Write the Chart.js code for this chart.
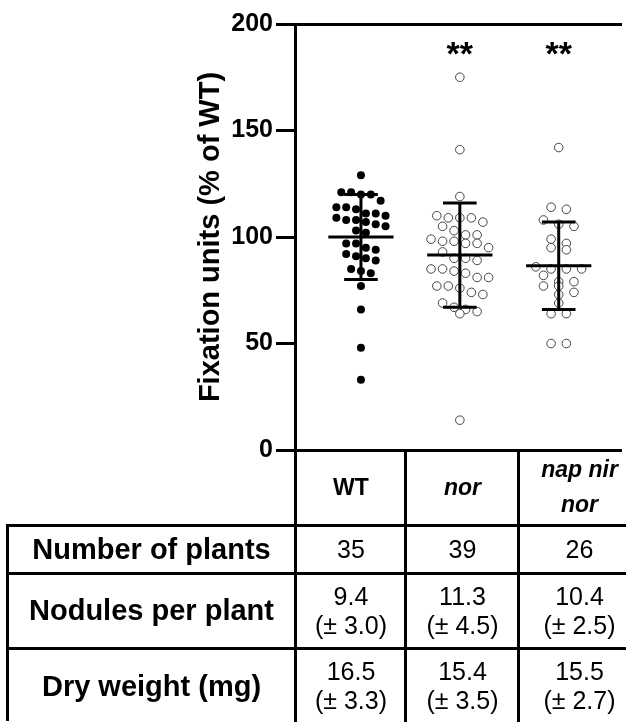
<!DOCTYPE html>
<html><head><meta charset="utf-8">
<script src="https://cdn.jsdelivr.net/npm/chart.js@4/dist/chart.umd.min.js"></script>
<style>
html,body{margin:0;padding:0;background:#fff;}
#wrap{position:relative;width:627px;height:722px;overflow:hidden;font-family:"Liberation Sans",Arial,sans-serif;color:#000;}
#c{position:absolute;left:0;top:0;}
.cell{position:absolute;box-sizing:border-box;display:flex;flex-direction:column;align-items:center;justify-content:center;text-align:center;font-size:25px;line-height:29px;white-space:nowrap;}
.cell div{white-space:nowrap;}
.ln{position:absolute;background:#000;}
</style></head><body>
<div id="wrap"><canvas id="c" width="627" height="722"></canvas></div>
<script>
// ---------- data ----------
const groups = ['WT', 'nor', 'nap nir nor'];
const wtValues  = [129,121,121,120,120,117,114,114,113,111,111,110,109,108,108,107,106,105,103,102,97,97,95,94,92,91,90,89,85,84,83,77,66,48,33];
const norValues = [175,141,119,110,109,109,109,107,105,103,101,101,99,98,98,97,97,95,93,90,90,89,85,85,84,83,81,81,77,77,76,74,73,69,67,66,65,64,14];
const napValues = [142,114,113,108,106,105,99,97,95,94,86,85,85,85,82,79,79,77,77,74,73,69,64,64,50,50];
const meanValues = [100, 91.5, 86.5];
const sdValues = [20, 24.5, 20.5];
const significance = ['', '**', '**'];
const significanceY = 190;
const yTicks = [0, 50, 100, 150, 200];
const rowLabels = ['Number of plants', 'Nodules per plant', 'Dry weight (mg)'];
const plantCounts = ['35', '39', '26'];
const nodulesMean = ['9.4', '11.3', '10.4'];
const nodulesSD = ['3.0', '4.5', '2.5'];
const dryWeightMean = ['16.5', '15.4', '15.5'];
const dryWeightSD = ['3.3', '3.5', '2.7'];

// ---------- layout (styles only) ----------
const X_MIN = 0.333, X_MAX = 3.637;
const PLOT_LEFT = 295, PLOT_RIGHT = 627;
const PX_PER_UNIT = (PLOT_RIGHT - PLOT_LEFT) / (X_MAX - X_MIN);
const Y_PX_PER_UNIT = (450 - 24) / 200;
const FONT = '"Liberation Sans", Arial, sans-serif';

function swarm(values, centre, spacingPx, rowPx) {
  const rowUnits = rowPx / Y_PX_PER_UNIT;
  const sorted = values.slice().sort((a, b) => b - a);
  const rows = [];
  for (const v of sorted) {
    const r = rows[rows.length - 1];
    if (r && r[0] - v < rowUnits) r.push(v); else rows.push([v]);
  }
  const pts = [];
  for (const r of rows) {
    const n = r.length;
    r.forEach((v, k) => pts.push({ x: centre + (k - (n - 1) / 2) * spacingPx / PX_PER_UNIT, y: v }));
  }
  return pts;
}

const groupValues = [wtValues, norValues, napValues];
const spacing = [10, 11.7, 15.5];
const rowBin = [9.5, 9, 8];
const datasets = [];
groupValues.forEach((vals, g) => {
  const c = g + 1;
  const m = meanValues[g], s = sdValues[g];
  const bar = (pts) => ({ type: 'scatter', data: pts, showLine: true, borderColor: '#000', borderWidth: 3,
    pointRadius: 0, pointHoverRadius: 0, borderCapStyle: 'butt', order: 0 });
  datasets.push(bar([{ x: c - 0.33, y: m }, { x: c + 0.33, y: m }]));
  datasets.push(bar([{ x: c, y: m - s }, { x: c, y: m + s }]));
  datasets.push(bar([{ x: c - 0.17, y: m + s }, { x: c + 0.17, y: m + s }]));
  datasets.push(bar([{ x: c - 0.17, y: m - s }, { x: c + 0.17, y: m - s }]));
  datasets.push({
    type: 'scatter', label: groups[g], data: swarm(vals, c, spacing[g], rowBin[g]), order: 1,
    pointRadius: g === 0 ? 4 : 4.3, pointHoverRadius: g === 0 ? 4 : 4.3,
    pointBackgroundColor: g === 0 ? '#000' : '#fff',
    pointBorderColor: g === 0 ? '#000' : '#444', pointBorderWidth: g === 0 ? 0 : 1
  });
});

const starPlugin = {
  id: 'stars',
  afterDatasetsDraw(chart) {
    const { ctx, scales: { x, y } } = chart;
    const size = 34;
    ctx.save();
    ctx.font = 'bold ' + size + 'px ' + FONT;
    ctx.fillStyle = '#000';
    ctx.textAlign = 'center';
    ctx.textBaseline = 'alphabetic';
    significance.forEach((t, g) => {
      if (t) ctx.fillText(t, x.getPixelForValue(g + 1), y.getPixelForValue(significanceY) + size * 0.57);
    });
    ctx.restore();
  }
};

new Chart(document.getElementById('c'), {
  type: 'scatter',
  data: { datasets },
  plugins: [starPlugin],
  options: {
    responsive: false, animation: false, devicePixelRatio: 1,
    layout: { padding: { left: 194, top: 24, right: 0, bottom: 722 - 450 } },
    plugins: { legend: { display: false }, tooltip: { enabled: false } },
    scales: {
      x: {
        type: 'linear', position: 'bottom', min: X_MIN, max: X_MAX,
        ticks: { display: false }, grid: { display: false },
        border: { display: true, width: 3, color: '#000' },
        afterFit: (s) => { s.height = 0; }
      },
      xTop: {
        type: 'linear', position: 'top', min: X_MIN, max: X_MAX,
        ticks: { display: false }, grid: { display: false },
        border: { display: true, width: 3, color: '#000' },
        afterFit: (s) => { s.height = 0; }
      },
      y: {
        min: 0, max: 200,
        afterBuildTicks: (s) => { s.ticks = yTicks.map(v => ({ value: v })); },
        ticks: { color: '#000', padding: 3, font: { family: FONT, size: 25, weight: 'bold' } },
        grid: { drawOnChartArea: false, drawTicks: true, tickLength: 19, lineWidth: 3, color: '#000' },
        border: { display: true, width: 3, color: '#000' },
        title: { display: true, text: 'Fixation units (% of WT)', color: '#000', padding: 0,
          font: { family: FONT, size: 29, weight: 'bold' } },
        afterFit: (s) => { s.width = PLOT_LEFT - 194; }
      }
    }
  }
});

// ---------- table ----------
const wrap = document.getElementById('wrap');
const colX = [296, 406, 519, 640];
const labelX = 7;
const rowY = [449, 525, 573, 648, 724];
function cell(x, y, w, h, lines, style) {
  const d = document.createElement('div');
  d.className = 'cell';
  d.style.left = x + 'px'; d.style.top = y + 'px'; d.style.width = w + 'px'; d.style.height = h + 'px';
  if (style) Object.assign(d.style, style);
  lines.forEach(t => { const s = document.createElement('div'); s.textContent = t; d.appendChild(s); });
  wrap.appendChild(d);
}
function line(x, y, w, h) {
  const d = document.createElement('div');
  d.className = 'ln';
  d.style.left = x + 'px'; d.style.top = y + 'px'; d.style.width = w + 'px'; d.style.height = h + 'px';
  wrap.appendChild(d);
}
groups.forEach((g, i) => {
  const txt = i === 2 ? ['nap nir', 'nor'] : [g];
  cell(colX[i], rowY[0], colX[i + 1] - colX[i], rowY[1] - rowY[0], txt,
    { fontWeight: 'bold', fontStyle: i > 0 ? 'italic' : 'normal', fontSize: '23px', lineHeight: '35px' });
});
const rowsContent = [
  plantCounts.map(v => [v]),
  nodulesMean.map((v, i) => [v, '(\u00b1 ' + nodulesSD[i] + ')']),
  dryWeightMean.map((v, i) => [v, '(\u00b1 ' + dryWeightSD[i] + ')'])
];
rowLabels.forEach((lab, r) => {
  const h = rowY[r + 2] - rowY[r + 1];
  cell(labelX, rowY[r + 1], colX[0] - labelX, h, [lab], { fontWeight: 'bold', fontSize: '29px' });
  rowsContent[r].forEach((t, i) => cell(colX[i], rowY[r + 1], colX[i + 1] - colX[i], h, t));
});
[colX[0], colX[1], colX[2]].forEach(x => line(x - 2, rowY[0], 3, 722 - rowY[0]));
line(labelX - 1, rowY[1] - 1, 3, 722 - rowY[1]);
rowY.slice(1).forEach(y => line(labelX - 1, y - 1, 627 - labelX, 3));
</script>
</body></html>
